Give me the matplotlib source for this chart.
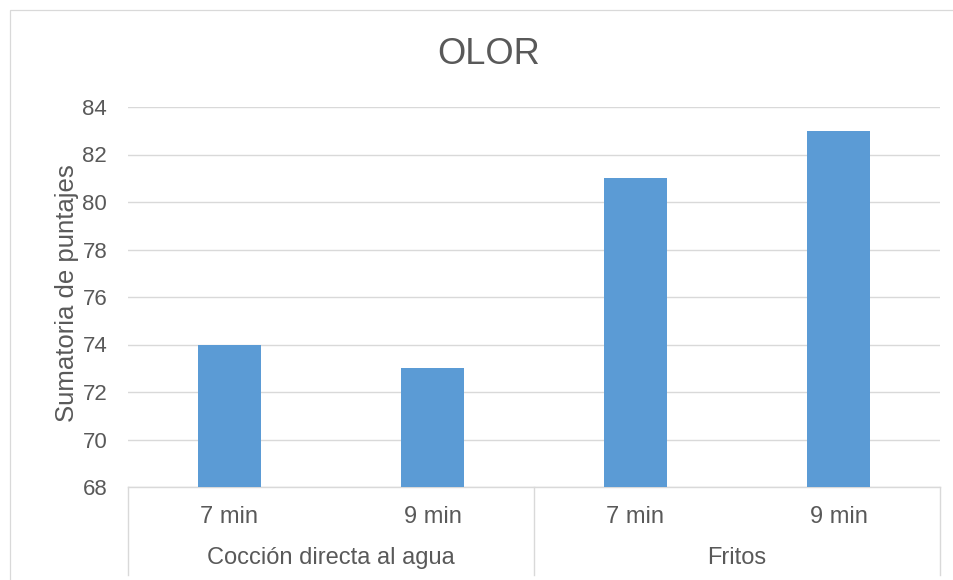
import matplotlib
matplotlib.use("Agg")
import matplotlib.pyplot as plt
from matplotlib.patches import Rectangle

# puntajes de olor por tratamiento
groups = ["Cocción directa al agua", "Fritos"]
times = ["7 min", "9 min", "7 min", "9 min"]
scores = [74, 73, 81, 83]

plt.rcParams['font.family'] = ['Liberation Sans', 'DejaVu Sans']
text_color = '#595959'
grid_color = '#D9D9D9'

W, H = 954, 580
fig = plt.figure(figsize=(W / 100, H / 100), dpi=100)

# marco del grafico
fig.patches.append(Rectangle((10 / W, -0.5), 2, 1.5 - 10 / H, transform=fig.transFigure,
                             fill=False, edgecolor=grid_color, linewidth=0.9))

left, right, top, bottom = 128, 940, 107, 487
ax = fig.add_axes([left / W, (H - bottom) / H, (right - left) / W, (bottom - top) / H])

x = list(range(len(scores)))
ax.bar(x, scores, width=0.31, color='#5B9BD5', zorder=3)

ax.set_xlim(-0.5, len(scores) - 0.5)
ax.set_ylim(68, 84)
ax.set_yticks(range(68, 85, 2))
ax.yaxis.grid(True, color=grid_color, linewidth=1.0)
ax.set_axisbelow(True)

for s in ['top', 'right', 'left']:
    ax.spines[s].set_visible(False)
ax.spines['bottom'].set_color(grid_color)
ax.spines['bottom'].set_linewidth(1.0)

ax.tick_params(axis='y', length=0, pad=15, labelsize=16, labelcolor=text_color)
ax.set_xticks([])

fig.text(67 / W, 1 - 293 / H, "Sumatoria de puntajes", fontsize=18.5, color=text_color,
         rotation=90, ha='center', va='center')
fig.text(489 / W, 1 - 54 / H, "OLOR", fontsize=26, color=text_color, ha='center', va='center')

# etiquetas de dos niveles
for i, t in enumerate(times):
    ax.annotate(t, xy=(i, 0), xycoords=('data', 'axes fraction'), xytext=(0, -21.5),
                textcoords='offset points', ha='center', va='center',
                fontsize=17, color=text_color)
for g, name in enumerate(groups):
    ax.annotate(name, xy=(g * 2 + 0.5, 0), xycoords=('data', 'axes fraction'), xytext=(0, -51),
                textcoords='offset points', ha='center', va='center',
                fontsize=17, color=text_color)

trans = ax.get_xaxis_transform()
for xs in [-0.5, 1.5, 3.5]:
    ax.plot([xs, xs], [0, -88 / (bottom - top)], transform=trans, color=grid_color,
            linewidth=1.0, clip_on=False)

fig.savefig("out.png", dpi=100)
